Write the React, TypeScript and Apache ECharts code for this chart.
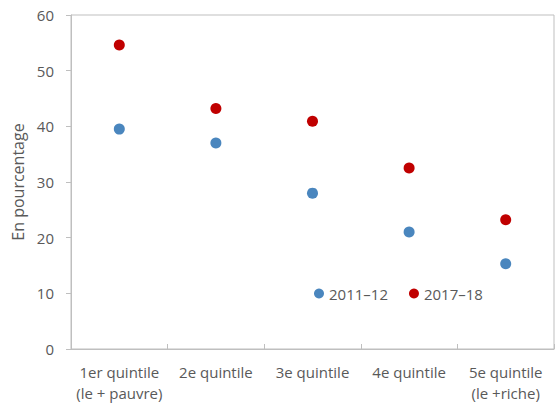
import React, { useEffect, useRef } from "react";
import * as echarts from "echarts";

const categories = [
  "1er quintile\n(le + pauvre)",
  "2e quintile",
  "3e quintile",
  "4e quintile",
  "5e quintile\n(le +riche)",
];
const series2011 = [39.5, 37.0, 28.0, 21.0, 15.3];
const series2017 = [54.6, 43.2, 40.9, 32.5, 23.2];
const yTicks = { min: 0, max: 60, interval: 10 };

export default function App() {
  const ref = useRef<HTMLDivElement>(null);
  useEffect(() => {
    if (!ref.current) return;
    const chart = echarts.init(ref.current, null, { renderer: "svg" });
    const font = "'Open Sans', 'Noto Sans', sans-serif";
    const axisColor = "#bfbfbf";
    const textColor = "#595959";
    chart.setOption({
      animation: false,
      textStyle: { fontFamily: font },
      grid: {
        left: 71,
        right: 2,
        top: 15,
        bottom: 55,
        show: true,
        borderColor: axisColor,
        borderWidth: 1,
      },
      legend: {
        left: 309,
        top: 281,
        itemWidth: 10,
        itemHeight: 10,
        itemGap: 21,
        icon: "circle",
        textStyle: { color: textColor, fontSize: 15, fontFamily: font },
        data: ["2011–12", "2017–18"],
      },
      xAxis: {
        type: "category",
        data: categories,
        boundaryGap: true,
        axisLine: { show: true, lineStyle: { color: axisColor } },
        axisTick: { show: true, inside: true, length: 5, lineStyle: { color: axisColor } },
        axisLabel: {
          color: textColor,
          fontSize: 15,
          fontFamily: font,
          margin: 12,
          lineHeight: 21,
          interval: 0,
        },
        splitLine: { show: false },
      },
      yAxis: {
        type: "value",
        min: yTicks.min,
        max: yTicks.max,
        interval: yTicks.interval,
        name: "En pourcentage",
        nameLocation: "middle",
        nameGap: 43,
        nameTextStyle: { color: textColor, fontSize: 16, fontFamily: font },
        axisLine: { show: true, lineStyle: { color: axisColor } },
        axisTick: { show: true, length: 5, lineStyle: { color: axisColor } },
        axisLabel: { color: textColor, fontSize: 15, fontFamily: font, margin: 17 },
        splitLine: { show: false },
      },
      series: [
        {
          name: "2011–12",
          type: "scatter",
          data: series2011,
          symbolSize: 11,
          itemStyle: { color: "#4a86be", opacity: 1 },
        },
        {
          name: "2017–18",
          type: "scatter",
          data: series2017,
          symbolSize: 11,
          itemStyle: { color: "#c00000", opacity: 1 },
        },
      ],
    });
    return () => chart.dispose();
  }, []);
  return <div ref={ref} style={{ width: 556, height: 404, position: "absolute", left: 0, top: 0 }} />;
}
